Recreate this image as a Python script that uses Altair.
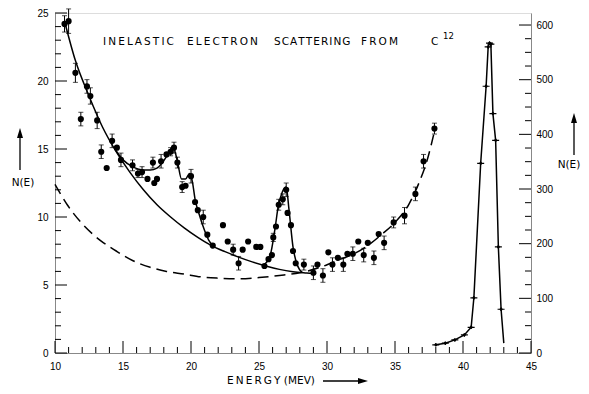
import altair as alt
import pandas as pd

W, H = 476, 340
FONT = "DejaVu Sans"

# ---- measured data points (left scale, N(E)) ----
energy = [10.7, 11.0, 11.5, 11.9, 12.35, 12.6, 13.1, 13.4, 13.8, 14.2, 14.55, 14.85,
          15.7, 16.1, 16.4, 16.8, 17.2, 17.3, 17.5, 17.8, 18.2, 18.5, 18.75, 19.0,
          19.35, 19.6, 20.0, 20.3, 20.5, 20.9, 21.2, 21.6, 22.35, 22.7, 23.1, 23.5,
          23.8, 24.2, 24.8, 25.1, 25.4, 25.7, 25.95, 26.05, 26.25, 26.45, 26.75, 27.0,
          27.1, 27.35, 27.5, 27.7, 28.3, 29.0, 29.3, 29.7, 30.1, 30.4, 30.8, 31.2,
          31.5, 31.9, 32.3, 32.7, 33.0, 33.45, 33.8, 34.2, 34.9, 35.7, 36.5, 37.1, 37.9]
counts = [24.2, 24.4, 20.6, 17.2, 19.6, 18.9, 17.1, 14.8, 13.6, 15.6, 15.1, 14.2,
          13.8, 13.2, 13.3, 12.8, 14.0, 12.5, 12.8, 14.1, 14.6, 14.8, 15.1, 14.0,
          12.2, 12.3, 13.0, 11.1, 10.5, 10.0, 8.7, 7.9, 9.4, 8.2, 7.6, 6.6,
          7.6, 8.2, 7.8, 7.8, 6.4, 6.9, 7.2, 8.5, 9.3, 10.9, 11.3, 12.0,
          10.3, 9.4, 7.5, 6.6, 6.5, 5.9, 6.5, 5.7, 7.4, 6.5, 7.0, 6.5,
          7.3, 7.3, 8.2, 7.2, 8.1, 7.0, 8.75, 8.1, 9.6, 10.1, 11.7, 14.1, 16.5]
errors = [0.6, 0.9, 0.7, 0.5, 0.5, 0.6, 0.6, 0.5, 0.0, 0.5, 0.0, 0.5,
          0.4, 0.3, 0.4, 0.0, 0.4, 0.0, 0.0, 0.5, 0.0, 0.3, 0.4, 0.4,
          0.4, 0.0, 0.5, 0.0, 0.0, 0.5, 0.0, 0.0, 0.0, 0.0, 0.4, 0.5,
          0.0, 0.0, 0.0, 0.0, 0.0, 0.0, 0.0, 0.3, 0.0, 0.4, 0.4, 0.5,
          0.0, 0.0, 0.0, 0.0, 0.4, 0.5, 0.0, 0.5, 0.0, 0.5, 0.0, 0.5,
          0.0, 0.5, 0.0, 0.5, 0.0, 0.5, 0.0, 0.5, 0.4, 0.6, 0.5, 0.5, 0.4]

# ---- radiative tail (solid) ----
tail_e = [10.7, 11.5, 12.5, 13.5, 14.5, 15.5, 16.5, 17.5, 18.5, 19.5, 20.5, 21.5,
          22.5, 23.5, 24.5, 25.5, 26.5, 27.5, 28.5, 29.2]
tail_n = [24.4, 21.5, 18.9, 16.6, 14.8, 13.3, 12.0, 10.9, 10.0, 9.2, 8.5, 7.9,
          7.45, 7.05, 6.7, 6.4, 6.15, 5.98, 5.88, 5.82]

# ---- fitted curve with the 19 MeV bump ----
fit1_e = [14.4, 15.0, 15.7, 16.5, 17.0, 17.5, 17.9, 18.3, 18.7, 19.0, 19.3, 19.6,
          19.9, 20.1, 20.3, 20.6, 21.0, 21.3, 21.6]
fit1_n = [15.0, 14.2, 13.7, 13.45, 13.45, 13.6, 14.0, 14.6, 15.1, 14.1, 12.8, 12.8,
          13.2, 12.6, 11.3, 10.2, 9.0, 8.3, 7.9]

# ---- fitted curve with the 27 MeV peak ----
fit2_e = [25.3, 25.8, 26.2, 26.4, 26.7, 27.0, 27.2, 27.5, 27.8, 28.2]
fit2_n = [6.45, 7.1, 9.3, 10.7, 11.8, 12.2, 10.6, 7.8, 6.5, 5.9]

# ---- dashed curve ----
dash_e = [10.0, 10.9, 12.0, 13.3, 14.5, 15.7, 17.0, 18.2, 19.5, 20.7, 22.0, 23.5,
          25.0, 26.5, 28.0, 29.5, 31.0, 32.0, 33.0, 34.0, 35.0, 36.0, 36.8, 37.4, 37.9]
dash_n = [12.4, 10.9, 9.5, 8.3, 7.5, 6.8, 6.3, 6.0, 5.8, 5.6, 5.5, 5.45,
          5.55, 5.7, 5.9, 6.3, 6.9, 7.3, 7.9, 8.7, 9.6, 10.9, 12.6, 14.3, 16.3]

# ---- elastic peak (right scale) ----
peak_e = [38.0, 38.7, 39.4, 40.1, 40.6, 40.8, 41.3, 41.7, 41.85, 41.95, 42.05, 42.2,
          42.4, 42.6, 42.8, 43.0]
peak_v = [15, 18, 24, 33, 47, 101, 347, 488, 560, 567, 565, 438,
          389, 194, 80, 18]
peak_marked = [1, 1, 1, 1, 1, 1, 1, 1, 1, 1, 1, 1, 1, 1, 1, 0]

# ---- axis ticks ----
x_major = [10, 15, 20, 25, 30, 35, 40, 45]
x_minor = [v for v in range(10, 46) if v % 5]
yl_major = [0, 5, 10, 15, 20, 25]
yl_minor = [v for v in range(0, 26) if v % 5]
yr_major = [0, 100, 200, 300, 400, 500, 600]
yr_minor = [v for v in range(0, 601, 25) if v % 100]

xscale = alt.Scale(domain=[10, 45], nice=False, zero=False)
xaxis = alt.Axis(values=x_major, ticks=False, grid=False, title=None, labelPadding=8,
                 labelFlush=False)
lscale = alt.Scale(domain=[0, 25], nice=False)
laxis = alt.Axis(values=yl_major, ticks=False, grid=False, title=None, labelPadding=7,
                 labelFlush=False)
rscale = alt.Scale(domain=[0, 622], nice=False)
raxis = alt.Axis(orient="right", values=yr_major, ticks=False, grid=False, title=None,
                 labelPadding=5, labelFlush=False)


def X(f):
    return alt.X(f, type="quantitative", scale=xscale, axis=xaxis)


def YL(f):
    return alt.Y(f, type="quantitative", scale=lscale, axis=laxis)


def YR(f):
    return alt.Y(f, type="quantitative", scale=rscale, axis=raxis)


pts = pd.DataFrame({"E": energy, "N": counts, "err": errors})
bars = pts[pts.err > 0].copy()
bars["lo"] = bars.N - bars.err
bars["hi"] = bars.N + bars.err

line_w = 1.5

tail = alt.Chart(pd.DataFrame({"E": tail_e, "N": tail_n})).mark_line(
    color="black", strokeWidth=line_w, interpolate="monotone").encode(x=X("E"), y=YL("N"))
fit1 = alt.Chart(pd.DataFrame({"E": fit1_e, "N": fit1_n})).mark_line(
    color="black", strokeWidth=line_w, interpolate="monotone").encode(x=X("E"), y=YL("N"))
fit2 = alt.Chart(pd.DataFrame({"E": fit2_e, "N": fit2_n})).mark_line(
    color="black", strokeWidth=line_w, interpolate="monotone").encode(x=X("E"), y=YL("N"))
dashed = alt.Chart(pd.DataFrame({"E": dash_e, "N": dash_n})).mark_line(
    color="black", strokeWidth=line_w, strokeDash=[11, 6], interpolate="monotone").encode(
    x=X("E"), y=YL("N"))

ebar = alt.Chart(bars).mark_rule(color="black", strokeWidth=1).encode(
    x=X("E"), y=YL("lo"), y2="hi")
cap_hi = alt.Chart(bars).mark_tick(color="black", orient="horizontal", size=5,
                                   thickness=1).encode(x=X("E"), y=YL("hi"))
cap_lo = alt.Chart(bars).mark_tick(color="black", orient="horizontal", size=5,
                                   thickness=1).encode(x=X("E"), y=YL("lo"))
dots = alt.Chart(pts).mark_point(filled=True, color="black", size=38, opacity=1).encode(
    x=X("E"), y=YL("N"))

xt_major = alt.Chart(pd.DataFrame({"t": x_major})).mark_rule(color="black").encode(
    x=X("t"), y=alt.value(H), y2=alt.value(H - 12))
xt_minor = alt.Chart(pd.DataFrame({"t": x_minor})).mark_rule(color="black").encode(
    x=X("t"), y=alt.value(H), y2=alt.value(H - 6))
lt_major = alt.Chart(pd.DataFrame({"t": yl_major})).mark_rule(color="black").encode(
    y=YL("t"), x=alt.value(0), x2=alt.value(12))
lt_minor = alt.Chart(pd.DataFrame({"t": yl_minor})).mark_rule(color="black").encode(
    y=YL("t"), x=alt.value(0), x2=alt.value(6))


def label(txt, x, y, size=10.5, align="left", baseline="alphabetic"):
    return alt.Chart(pd.DataFrame({"t": [txt]})).mark_text(
        font=FONT, fontSize=size, color="black", align=align, baseline=baseline).encode(
        text="t:N", x=alt.value(x), y=alt.value(y))


THIN = "\u2009"
HAIR = "\u200a"
title_words = [THIN.join("INELASTIC"), THIN.join("ELECTRON"), HAIR.join("SCATTERING"),
               THIN.join("FROM"), "C"]
title_x = [48, 132, 219, 306, 376]
annots = [label(w, xx, 32) for w, xx in zip(title_words, title_x)]
annots.append(label("12", 388, 26, size=8.5))
annots.append(label(THIN.join("ENERGY") + " (MEV)", 216, 368, size=10.5, align="center",
                    baseline="middle"))
annots.append(label("N(E)", -32, 170, size=10.5, align="center", baseline="middle"))
annots.append(label("N(E)", 514, 152, size=10.5, align="center", baseline="middle"))


def arrow_v(x, y_tip, y_end):
    shaft = alt.Chart(pd.DataFrame({"a": [0]})).mark_rule(color="black", strokeWidth=1.3).encode(
        x=alt.value(x), y=alt.value(y_tip + 4), y2=alt.value(y_end))
    head = alt.Chart(pd.DataFrame({"a": [0]})).mark_point(
        shape="M0,-1L0.6,1L-0.6,1Z", filled=True, color="black", size=100, opacity=1).encode(
        x=alt.value(x), y=alt.value(y_tip + 5))
    return [shaft, head]


def arrow_h(x0, x_tip, y):
    shaft = alt.Chart(pd.DataFrame({"a": [0]})).mark_rule(color="black", strokeWidth=1.3).encode(
        x=alt.value(x0), x2=alt.value(x_tip - 4), y=alt.value(y))
    head = alt.Chart(pd.DataFrame({"a": [0]})).mark_point(
        shape="M1,0L-1,-0.6L-1,0.6Z", filled=True, color="black", size=100, opacity=1).encode(
        x=alt.value(x_tip - 5), y=alt.value(y))
    return [shaft, head]


arrows = arrow_v(-35, 115, 157) + arrow_v(519, 100, 142) + arrow_h(268, 313, 368)

left = alt.layer(dashed, tail, fit1, fit2, ebar, cap_hi, cap_lo, dots,
                 xt_major, xt_minor, lt_major, lt_minor, *annots, *arrows)

pk = pd.DataFrame({"E": peak_e, "V": peak_v, "m": peak_marked})
pk_line = alt.Chart(pk).mark_line(color="black", strokeWidth=line_w).encode(
    x=X("E"), y=YR("V"))
pk_mark = alt.Chart(pk[pk.m == 1]).mark_point(
    shape="M-1,0L1,0M0,-0.5L0,0.5", color="black", size=49, strokeWidth=1.2,
    opacity=1).encode(x=X("E"), y=YR("V"))
pk_dot = alt.Chart(pk[pk.m == 1]).mark_point(filled=True, color="black", size=8,
                                              opacity=1).encode(x=X("E"), y=YR("V"))
rt_major = alt.Chart(pd.DataFrame({"t": yr_major})).mark_rule(color="black").encode(
    y=YR("t"), x=alt.value(W), x2=alt.value(W - 12))
rt_minor = alt.Chart(pd.DataFrame({"t": yr_minor})).mark_rule(color="black").encode(
    y=YR("t"), x=alt.value(W), x2=alt.value(W - 6))

right = alt.layer(pk_line, pk_mark, pk_dot, rt_major, rt_minor)

chart = alt.layer(left, right).resolve_scale(y="independent").properties(
    width=W, height=H,
    autosize=alt.AutoSizeParams(type="none"),
    padding={"left": 47, "top": 5, "right": 50, "bottom": 33},
).configure_view(stroke="black", strokeWidth=1).configure_axis(
    domainColor="black", domainWidth=1, labelColor="black", labelFont=FONT,
    labelFontSize=11).configure(background="white")

chart.save("out.html", embed_options={"renderer": "svg", "actions": False})
